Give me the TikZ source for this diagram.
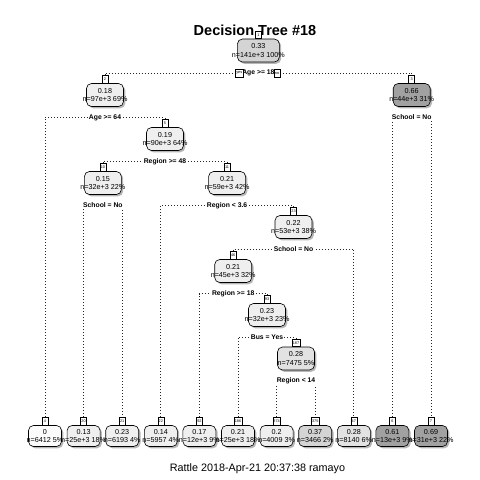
\documentclass[tikz,border=0pt]{standalone}
\usepackage{fontspec}
\setmainfont{Liberation Sans}
\usepackage{tikz}
\usetikzlibrary{positioning,shadows}
\usepackage{xcolor}
\definecolor{grW}{HTML}{FBFBFB}
\definecolor{grB}{HTML}{EFEFEF}
\definecolor{grC}{HTML}{E2E2E2}
\definecolor{grD}{HTML}{D4D4D4}
\definecolor{grF}{HTML}{A1A1A1}
\newcommand{\nodetxt}[2]{\makebox[0pt]{#1}\\\makebox[0pt]{#2}}

\begin{document}
\begin{tikzpicture}[x=1pt, y=-1pt,
                    every node/.style={font=\fontsize{7.2}{8.2}\selectfont},
                    box/.style={draw=black, line width=0.6pt, rounded corners=5pt,
                                minimum width=37pt, minimum height=23pt, inner sep=0pt,
                                align=center,
                                drop shadow={shadow xshift=1.8pt, shadow yshift=-1.8pt,
                                             fill=black!40, opacity=0.7}},
                    leaf/.style={box, minimum width=33pt, minimum height=21pt},
                    tagbox/.style={draw=black, fill=white, line width=0.5pt, inner sep=0.6pt,
                                   minimum width=6pt, minimum height=7.5pt,
                                   font=\fontsize{3.8}{4}\selectfont},
                    split/.style={fill=white, inner sep=0.6pt,
                                  font=\fontsize{6.8}{8}\selectfont\bfseries},
                    branch/.style={black!85, line width=0.8pt,
                                   dash pattern=on 0.8pt off 2.2pt}]
  \fill[white] (0,0) rectangle (480,480);
  \useasboundingbox (0,0) rectangle (480,480);
  \node[font=\fontsize{14.5}{17}\selectfont\bfseries] (title) at (255,30) {Decision Tree \#18};
  % inner nodes
  \node[box, fill=grD, minimum width=42pt] (n1) at (258.4,50.5) {\nodetxt{0.33}{n=141e+3 100\%}};
  \node[box, fill=grB] (n2)   at (105,95)     {\nodetxt{0.18}{n=97e+3 69\%}};
  \node[box, fill=grF] (n3)   at (411.7,95)   {\nodetxt{0.66}{n=44e+3 31\%}};
  \node[box, fill=grB] (n5)   at (165,139)    {\nodetxt{0.19}{n=90e+3 64\%}};
  \node[box, fill=grB] (n10)  at (102.9,183)  {\nodetxt{0.15}{n=32e+3 22\%}};
  \node[box, fill=grB] (n11)  at (227.1,183)  {\nodetxt{0.21}{n=59e+3 42\%}};
  \node[box, fill=grB] (n23)  at (293.5,227)  {\nodetxt{0.22}{n=53e+3 38\%}};
  \node[box, fill=grB] (n46)  at (233.2,271)  {\nodetxt{0.21}{n=45e+3 32\%}};
  \node[box, fill=grB] (n93)  at (267,315)    {\nodetxt{0.23}{n=32e+3 23\%}};
  \node[box, fill=grC] (n187) at (296,358.5)  {\nodetxt{0.28}{n=7475 5\%}};
  % leaves
  \node[leaf, fill=grW] (n4)   at (45,436)    {\nodetxt{0}{n=6412 5\%}};
  \node[leaf, fill=grB] (n20)  at (83.6,436)  {\nodetxt{0.13}{n=25e+3 18\%}};
  \node[leaf, fill=grB] (n21)  at (122.2,436) {\nodetxt{0.23}{n=6193 4\%}};
  \node[leaf, fill=grB] (n22)  at (160.8,436) {\nodetxt{0.14}{n=5957 4\%}};
  \node[leaf, fill=grB] (n92)  at (199.4,436) {\nodetxt{0.17}{n=12e+3 9\%}};
  \node[leaf, fill=grB] (n186) at (238,436)   {\nodetxt{0.21}{n=25e+3 18\%}};
  \node[leaf, fill=grB] (n374) at (276.6,436) {\nodetxt{0.2}{n=4009 3\%}};
  \node[leaf, fill=grD] (n375) at (315.2,436) {\nodetxt{0.37}{n=3466 2\%}};
  \node[leaf, fill=grC] (n47)  at (353.8,436) {\nodetxt{0.28}{n=8140 6\%}};
  \node[leaf, fill=grF] (n6)   at (392.4,436) {\nodetxt{0.61}{n=13e+3 9\%}};
  \node[leaf, fill=grF] (n7)   at (431,436)   {\nodetxt{0.69}{n=31e+3 22\%}};
  % node numbers
  \foreach \k in {1,2,3,5,10,11,23,46,93,187,4,20,21,22,92,186,374,375,47,6,7}
    \node[tagbox, above=0pt of n\k] (t\k) {\k};
  % splits
  \coordinate (s1)   at (258.4,73);
  \coordinate (s2)   at (105,117.5);
  \coordinate (s3)   at (411.7,117.5);
  \coordinate (s5)   at (165,161.5);
  \coordinate (s10)  at (102.9,205.5);
  \coordinate (s11)  at (227.1,205.5);
  \coordinate (s23)  at (293.5,249.5);
  \coordinate (s46)  at (233.2,293.5);
  \coordinate (s93)  at (267,337.5);
  \coordinate (s187) at (296,381);
  \draw[branch] (t2.north)   |- (s1)   -| (t3.north);
  \draw[branch] (t4.north)   |- (s2)   -| (t5.north);
  \draw[branch] (t6.north)   |- (s3)   -| (t7.north);
  \draw[branch] (t10.north)  |- (s5)   -| (t11.north);
  \draw[branch] (t20.north)  |- (s10)  -| (t21.north);
  \draw[branch] (t22.north)  |- (s11)  -| (t23.north);
  \draw[branch] (t46.north)  |- (s23)  -| (t47.north);
  \draw[branch] (t92.north)  |- (s46)  -| (t93.north);
  \draw[branch] (t186.north) |- (s93)  -| (t187.north);
  \draw[branch] (t374.north) |- (s187) -| (t375.north);
  \node[split] (l1)   at (s1)   {Age >= 18};
  \node[split] (l2)   at (s2)   {Age >= 64};
  \node[split] (l3)   at (s3)   {School = No};
  \node[split] (l5)   at (s5)   {Region >= 48};
  \node[split] (l10)  at (s10)  {School = No};
  \node[split] (l11)  at (s11)  {Region < 3.6};
  \node[split] (l23)  at (s23)  {School = No};
  \node[split] (l46)  at (s46)  {Region >= 18};
  \node[split] (l93)  at (s93)  {Bus = Yes};
  \node[split] (l187) at (s187) {Region < 14};
  \node[tagbox, left=-1.5pt of l1]  (yes) {yes};
  \node[tagbox, right=-1.5pt of l1] (no)  {no};
  \node[font=\fontsize{10.8}{13}\selectfont] (footer) at (257.5,469) {Rattle 2018-Apr-21 20:37:38 ramayo};
\end{tikzpicture}
\end{document}
